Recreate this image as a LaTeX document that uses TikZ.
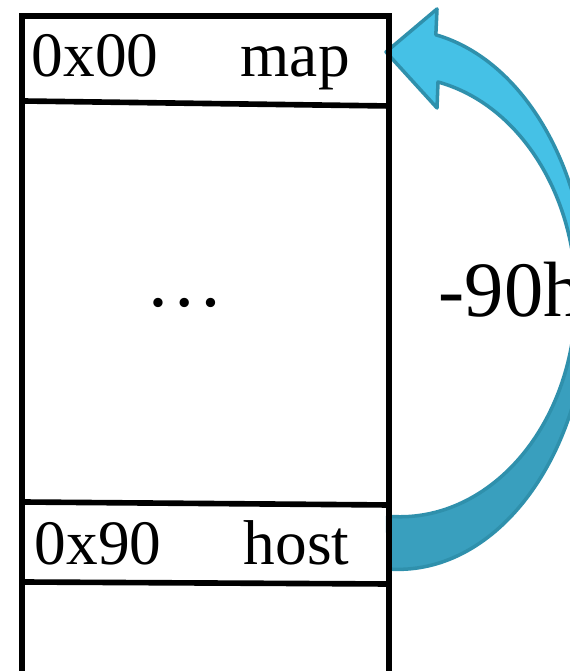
\documentclass[tikz,border=0pt]{standalone}
\usepackage{fontspec}
\setmainfont{Liberation Serif}
\definecolor{arrlight}{RGB}{69,193,230}
\definecolor{arrdark}{RGB}{57,159,190}
\definecolor{arredge}{RGB}{47,144,172}
% outline of the bent arrow, host row round to map row
\newcommand\bentarrow{(hostend) arc[start angle=-93, end angle=78.5, x radius=190, y radius=270]
  -- (437,662) -- (maptip) -- (437,563) -- (438,589)
  arc[start angle=77.5, end angle=-94, x radius=176, y radius=220] -- cycle}
\begin{document}
\begin{tikzpicture}[x=0.01cm, y=0.01cm,
  cell/.style={anchor=base west, inner sep=0pt, font=\fontsize{18}{22}\selectfont},
  big/.style={inner sep=0pt, font=\fontsize{22.3}{26}\selectfont},
  wall/.style={line width=1.6pt, line cap=rect, line join=miter}]
\useasboundingbox (0,0) rectangle (569,671);

% arrow first, so the table lines stay on top
\coordinate (hostend) at (388,102);
\coordinate (maptip) at (386,619);
\fill[arrlight] \bentarrow;
% back half is a shade darker
\fill[arrdark] (hostend) arc[start angle=-93, end angle=0, x radius=190, y radius=270]
  -- (576,374) arc[start angle=0, end angle=-94, x radius=176, y radius=220] -- cycle;
\draw[arredge, line width=1pt, line join=round] \bentarrow;

% table, open at the bottom
\draw[wall] (22,0) -- (22,655) -- (389,655) -- (389,0);
\draw[wall] (22,570) -- (389,565);
\draw[wall] (22,169) -- (389,166);
\draw[wall] (22,89) -- (389,87);

\node[cell] (a1) at (31,594) {0x00};
\node[cell] (n1) at (240,594) {map};
\node[cell] (a2) at (34,106) {0x90};
\node[cell] (n2) at (243,106) {host};
\node[big, anchor=base] (gap) at (185,364) {…};
\node[big, anchor=base west] (off) at (438,354) {-90h};
\end{tikzpicture}
\end{document}
